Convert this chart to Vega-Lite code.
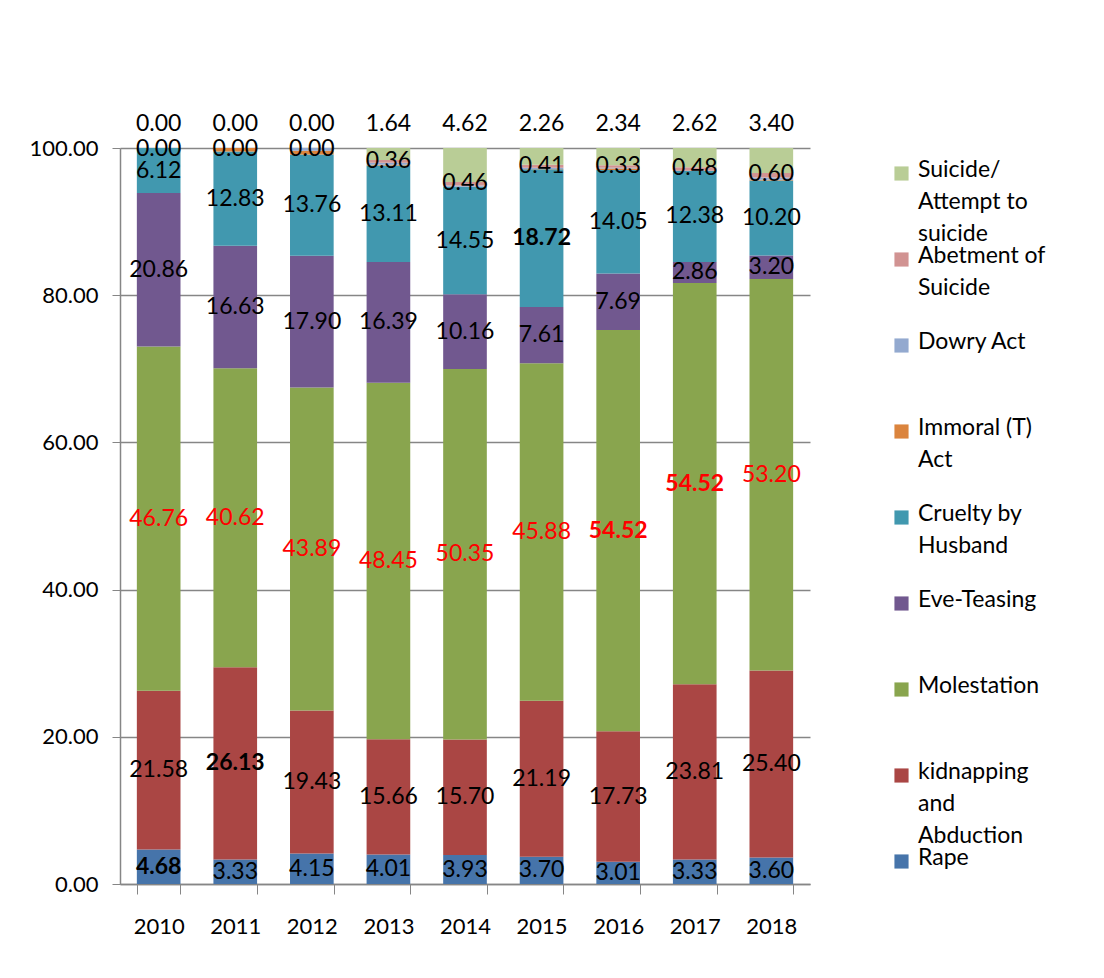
{
  "$schema": "https://vega.github.io/schema/vega-lite/v6.json",
  "autosize": {"type": "none"},
  "padding": {"left": 120, "top": 148, "right": 294, "bottom": 94},
  "width": 690,
  "height": 736,
  "background": "white",
  "config": {
    "font": "Lato",
    "view": {"stroke": null},
    "axis": {"labelFont": "Lato", "labelFontSize": 22, "labelColor": "#000000", "domainColor": "#868686", "tickColor": "#868686", "gridColor": "#868686", "domainWidth": 1.5, "gridWidth": 1.5},
    "legend": {"labelFont": "Lato", "labelFontSize": 23, "labelColor": "#000000"}
  },
  "data": {
    "values": [
      {"year": "2010", "Rape": 4.68, "Kidnapping": 21.58, "Molestation": 46.76, "EveTeasing": 20.86, "Cruelty": 6.12, "Immoral": 0, "Dowry": 0, "Abetment": 0, "Suicide": 0},
      {"year": "2011", "Rape": 3.33, "Kidnapping": 26.13, "Molestation": 40.62, "EveTeasing": 16.63, "Cruelty": 12.83, "Immoral": 0.46, "Dowry": 0, "Abetment": 0, "Suicide": 0},
      {"year": "2012", "Rape": 4.15, "Kidnapping": 19.43, "Molestation": 43.89, "EveTeasing": 17.90, "Cruelty": 13.76, "Immoral": 0.5, "Dowry": 0.37, "Abetment": 0, "Suicide": 0},
      {"year": "2013", "Rape": 4.01, "Kidnapping": 15.66, "Molestation": 48.45, "EveTeasing": 16.39, "Cruelty": 13.11, "Immoral": 0.1, "Dowry": 0.28, "Abetment": 0.36, "Suicide": 1.64},
      {"year": "2014", "Rape": 3.93, "Kidnapping": 15.70, "Molestation": 50.35, "EveTeasing": 10.16, "Cruelty": 14.55, "Immoral": 0.05, "Dowry": 0.18, "Abetment": 0.46, "Suicide": 4.62},
      {"year": "2015", "Rape": 3.70, "Kidnapping": 21.19, "Molestation": 45.88, "EveTeasing": 7.61, "Cruelty": 18.72, "Immoral": 0.05, "Dowry": 0.18, "Abetment": 0.41, "Suicide": 2.26},
      {"year": "2016", "Rape": 3.01, "Kidnapping": 17.73, "Molestation": 54.52, "EveTeasing": 7.69, "Cruelty": 14.05, "Immoral": 0.2, "Dowry": 0.13, "Abetment": 0.33, "Suicide": 2.34},
      {"year": "2017", "Rape": 3.33, "Kidnapping": 23.81, "Molestation": 54.52, "EveTeasing": 2.86, "Cruelty": 12.38, "Immoral": 0, "Dowry": 0, "Abetment": 0.48, "Suicide": 2.62},
      {"year": "2018", "Rape": 3.60, "Kidnapping": 25.40, "Molestation": 53.20, "EveTeasing": 3.20, "Cruelty": 10.20, "Immoral": 0.1, "Dowry": 0.3, "Abetment": 0.60, "Suicide": 3.40}
    ]
  },
  "transform": [
    {"fold": ["Rape", "Kidnapping", "Molestation", "EveTeasing", "Cruelty", "Immoral", "Dowry", "Abetment", "Suicide"], "as": ["crime", "value"]},
    {"calculate": "indexof(['Rape','Kidnapping','Molestation','EveTeasing','Cruelty','Immoral','Dowry','Abetment','Suicide'], datum.crime)", "as": "ord"},
    {"stack": "value", "groupby": ["year"], "sort": [{"field": "ord", "order": "ascending"}], "as": ["s0", "s1"]},
    {"calculate": "(datum.s0 + datum.s1) / 2", "as": "mid"},
    {"calculate": "(datum.year=='2010' && datum.crime=='Rape') || (datum.year=='2011' && datum.crime=='Kidnapping') || (datum.year=='2015' && datum.crime=='Cruelty') || (datum.year=='2016' && datum.crime=='Molestation') || (datum.year=='2017' && datum.crime=='Molestation')", "as": "hl"}
  ],
  "encoding": {
    "x": {
      "field": "year", "type": "ordinal", "title": null,
      "scale": {"paddingInner": 0.43, "paddingOuter": 0.22},
      "axis": {"labelAngle": 0, "labelPadding": 22, "tickBand": "extent", "tickSize": 10, "domain": true}
    }
  },
  "layer": [
    {
      "mark": {"type": "bar"},
      "encoding": {
        "y": {"field": "s0", "type": "quantitative", "title": null,
          "scale": {"domain": [0, 100], "nice": false},
          "axis": {"values": [0, 20, 40, 60, 80, 100], "format": ".2f", "grid": true, "tickSize": 8, "labelPadding": 14}},
        "y2": {"field": "s1"},
        "color": {
          "field": "crime", "type": "nominal", "title": null,
          "scale": {
            "domain": ["Suicide", "Abetment", "Dowry", "Immoral", "Cruelty", "EveTeasing", "Molestation", "Kidnapping", "Rape"],
            "range": ["#B9CD96", "#D19392", "#93A9CF", "#DB843D", "#4198AF", "#71588F", "#89A54E", "#AA4644", "#4674AA"]
          },
          "legend": {
            "orient": "none", "legendX": 770, "legendY": 14,
            "symbolType": "square", "symbolSize": 200, "symbolStrokeWidth": 0,
            "gridAlign": "all", "rowPadding": -2, "labelOffset": 5, "labelLimit": 200,
            "labelBaseline": "top",
            "labelExpr": "datum.label == 'Suicide' ? ['Suicide/', 'Attempt to', 'suicide'] : datum.label == 'Abetment' ? ['Abetment of', 'Suicide'] : datum.label == 'Dowry' ? 'Dowry Act' : datum.label == 'Immoral' ? ['Immoral (T)', 'Act'] : datum.label == 'Cruelty' ? ['Cruelty by', 'Husband'] : datum.label == 'EveTeasing' ? 'Eve-Teasing' : datum.label == 'Kidnapping' ? ['kidnapping', 'and', 'Abduction'] : datum.label",
            "encode": {"labels": {"update": {"dy": {"value": -15}, "lineHeight": {"value": 32}}}}
          }
        }
      }
    },
    {
      "transform": [{"filter": "datum.crime != 'Immoral' && datum.crime != 'Dowry' && datum.crime != 'Suicide' && datum.crime != 'Abetment' && !datum.hl"}],
      "mark": {"type": "text", "fontSize": 23, "baseline": "middle"},
      "encoding": {
        "y": {"field": "mid", "type": "quantitative"},
        "text": {"field": "value", "type": "quantitative", "format": ".2f"},
        "color": {"condition": {"test": "datum.crime == 'Molestation'", "value": "#FF0000"}, "value": "#000000"}
      }
    },
    {
      "transform": [{"filter": "datum.hl"}],
      "mark": {"type": "text", "fontSize": 23, "baseline": "middle", "fontWeight": "bold"},
      "encoding": {
        "y": {"field": "mid", "type": "quantitative"},
        "text": {"field": "value", "type": "quantitative", "format": ".2f"},
        "color": {"condition": {"test": "datum.crime == 'Molestation'", "value": "#FF0000"}, "value": "#000000"}
      }
    },
    {
      "transform": [{"filter": "datum.crime == 'Abetment'"}],
      "mark": {"type": "text", "fontSize": 23, "baseline": "middle", "dy": 1, "color": "#000000"},
      "encoding": {
        "y": {"field": "s1", "type": "quantitative"},
        "text": {"field": "value", "type": "quantitative", "format": ".2f"}
      }
    },
    {
      "transform": [{"filter": "datum.crime == 'Suicide'"}],
      "mark": {"type": "text", "fontSize": 23, "baseline": "middle", "dy": -24, "color": "#000000"},
      "encoding": {
        "y": {"field": "s1", "type": "quantitative"},
        "text": {"field": "value", "type": "quantitative", "format": ".2f"}
      }
    }
  ]
}
